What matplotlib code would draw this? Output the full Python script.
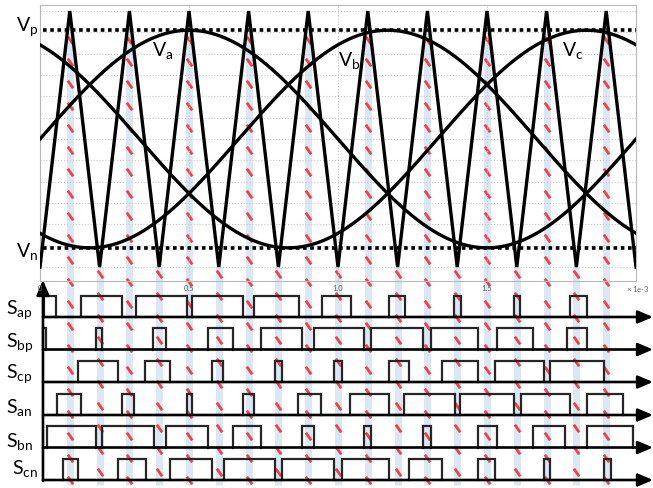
import numpy as np
import matplotlib
matplotlib.use("Agg")
import matplotlib.pyplot as plt
from matplotlib.path import Path

plt.rcParams['font.family'] = ['Lato', 'DejaVu Sans']
plt.rcParams['mathtext.fontset'] = 'custom'
plt.rcParams['mathtext.rm'] = 'Lato'

# ---------------- data (time axis: 0 .. 2.0) ----------------
carrier_t = [0.0, 0.1, 0.2, 0.3, 0.4, 0.5, 0.6, 0.7, 0.8, 0.9, 1.0,
             1.1, 1.2, 1.3, 1.4, 1.5, 1.6, 1.7, 1.8, 1.9, 2.0]
carrier_v = [-1, 1, -1, 1, -1, 1, -1, 1, -1, 1, -1,
             1, -1, 1, -1, 1, -1, 1, -1, 1, -1]

sine_amp = 0.85
sine_period = 2.0
phase_a, phase_b, phase_c = 0.0, -120.0, 120.0   # degrees
v_p, v_n = 0.85, -0.85

xticks = [0, 0.5, 1.0, 1.5]
xtick_labels = ['0', '0.5', '1.0', '1.5']

# switching signals: (rise, fall) times of every pulse
S_ap = [(0.013, 0.054), (0.138, 0.275), (0.322, 0.493), (0.510, 0.681), (0.718, 0.869),
        (0.946, 1.044), (1.171, 1.225), (1.389, 1.413), (1.591, 1.611), (1.779, 1.836)]
S_bp = [(0.010, 0.020), (0.188, 0.208), (0.379, 0.423), (0.564, 0.648), (0.742, 0.879),
        (0.920, 1.087), (1.111, 1.285), (1.312, 1.470), (1.534, 1.654), (1.769, 1.836)]
S_cp = [(0.128, 0.262), (0.352, 0.436), (0.577, 0.614), (0.789, 0.812), (0.987, 1.013),
        (1.171, 1.238), (1.349, 1.470), (1.527, 1.691), (1.711, 1.893)]
S_an = [(0.057, 0.138), (0.275, 0.315), (0.493, 0.510), (0.681, 0.718), (0.866, 0.943),
        (1.040, 1.171), (1.222, 1.393), (1.409, 1.591), (1.614, 1.779), (1.836, 1.956)]
S_bn = [(0.024, 0.188), (0.208, 0.383), (0.423, 0.564), (0.648, 0.742), (0.879, 0.920),
        (1.087, 1.111), (1.285, 1.312), (1.470, 1.534), (1.654, 1.762), (1.836, 1.990)]
S_cn = [(0.077, 0.128), (0.262, 0.356), (0.436, 0.577), (0.617, 0.789), (0.812, 0.987),
        (1.013, 1.171), (1.238, 1.349), (1.470, 1.527), (1.691, 1.711), (1.893, 1.916)]

signal_names = ['ap', 'bp', 'cp', 'an', 'bn', 'cn']
signals = [S_ap, S_bp, S_cp, S_an, S_bn, S_cn]

# ---------------- layout ----------------
W, H = 653, 489
fig = plt.figure(figsize=(W / 100, H / 100), dpi=100)
fig.patch.set_facecolor('white')

x_left, x_right = 40, 636
top_px, bot_px = 6, 282
ylo, yhi = -1.109, 1.047

def px_of(v):
    return top_px + (yhi - v) * (bot_px - top_px) / (yhi - ylo)

# overlay axes (whole figure height, y in pixels from top)
axo = fig.add_axes([x_left / W, 0, (x_right - x_left) / W, 1], zorder=0)
axo.set_xlim(0, 2.0)
axo.set_ylim(H, 0)
axo.axis('off')

# top axes
ax = fig.add_axes([x_left / W, 1 - bot_px / H, (x_right - x_left) / W, (bot_px - top_px) / H], zorder=1)
ax.patch.set_alpha(0)
ax.set_xlim(0, 2.0)
ax.set_ylim(ylo, yhi)

# ---------------- vertical markers (blue bands + red slanted dashes) ----------------
dash = Path([(-0.7, 1.0), (0.7, -1.0)], [Path.MOVETO, Path.LINETO])
band_bottom = 486
for t, v in zip(carrier_t[1:-1], carrier_v[1:-1]):
    y0 = px_of(v_p) + 3 if v > 0 else px_of(v)
    axo.plot([t, t], [y0, band_bottom], color='#dae8f4', lw=5.0, solid_capstyle='butt', zorder=1)
    ys = np.arange(y0 + 7, band_bottom - 2, 22.0)
    axo.plot(np.full_like(ys, t), ys, ls='none', marker=dash, ms=5.5, mew=2.0,
             mec='#ee4148', zorder=2)

# ---------------- top panel ----------------
ax.set_xticks(xticks)
ax.set_xticklabels(xtick_labels)
ax.set_yticks(np.arange(-6, 7) / 6.0)
ax.set_yticklabels([])
ax.tick_params(length=0, labelsize=5.5, colors='#666666', pad=2)
ax.grid(True, ls=':', color='#c8c8c8', lw=0.8)
for s in ax.spines.values():
    s.set_color('#b8b8b8')
    s.set_linewidth(0.8)

ax.plot(carrier_t, carrier_v, color='black', lw=2.4, zorder=3, solid_joinstyle='miter')
tt = np.linspace(0, 2.0, 400)
for ph in (phase_a, phase_b, phase_c):
    ax.plot(tt, sine_amp * np.sin(2 * np.pi * tt / sine_period + np.deg2rad(ph)),
            color='black', lw=2.4, zorder=3)
ax.plot([0.01, 2.0], [v_p, v_p], color='black', lw=2.6, ls=(0, (1, 1)), zorder=4)
ax.plot([0.01, 2.0], [v_n, v_n], color='black', lw=2.6, ls=(0, (1, 1)), zorder=4)

def ftext(x, y, s, **kw):
    fig.text(x / W, 1 - y / H, s, fontsize=14, ha='left', va='baseline', **kw)

ftext(16, 32, r'V$_{\mathregular{p}}$')
ftext(16, 258, r'V$_{\mathregular{n}}$')
ftext(152, 57, r'V$_{\mathregular{a}}$')
ftext(338, 67, r'V$_{\mathregular{b}}$')
ftext(562, 57, r'V$_{\mathregular{c}}$')

# ---------------- switching signals ----------------
row_base = [318, 350.5, 383, 416, 448.5, 481]
pulse_h = 21.5
t_axis = 0.01
t_tip = (653 - x_left) / (x_right - x_left) * 2.0
arrow_kw = dict(arrowstyle='-|>,head_length=0.75,head_width=0.32', lw=1.9, color='black',
                shrinkA=0, shrinkB=0, mutation_scale=12)
label_x = [6, 6, 6, 6, 6, 12]
label_dy = [-3, -3, -4, -2, -1, -6]
for i, (name, pulses) in enumerate(zip(signal_names, signals)):
    b = row_base[i]
    axo.annotate('', xy=(t_tip, b), xytext=(t_axis, b), arrowprops=arrow_kw,
                 annotation_clip=False, zorder=5)
    for r, f in pulses:
        axo.plot([r, r, f, f], [b, b - pulse_h, b - pulse_h, b], color='#262626',
                 lw=1.6, zorder=4, solid_joinstyle='miter', clip_on=False)
    ftext(label_x[i], b + label_dy[i], 'S' + r'$_{\mathregular{' + name + '}}$')

axo.annotate('', xy=(t_axis, 281), xytext=(t_axis, 482), arrowprops=arrow_kw,
             annotation_clip=False, zorder=5)

fig.text(626 / W, 1 - 292 / H, r'$\times$ 1e-3', fontsize=5.5, color='#666666',
         ha='left', va='baseline')

fig.savefig('out.png', dpi=100, facecolor='white')
